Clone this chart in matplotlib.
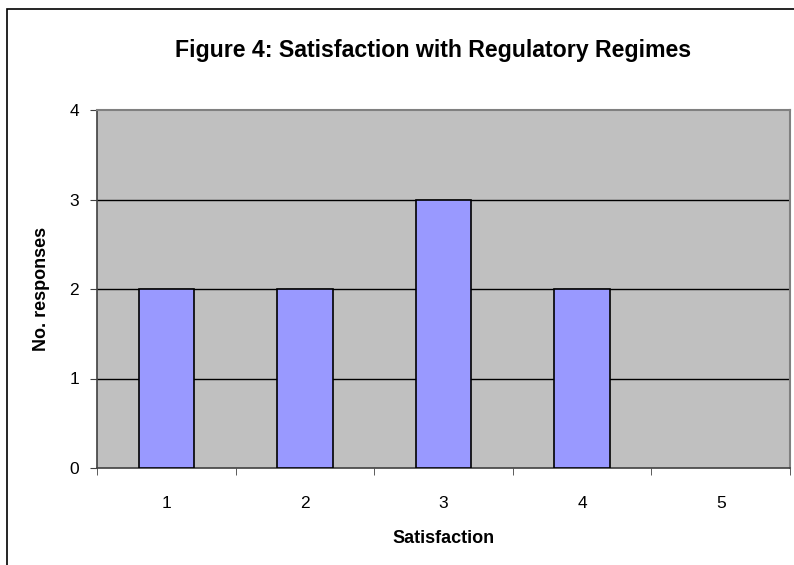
import matplotlib.pyplot as plt
from matplotlib.patches import Rectangle
import numpy as np

categories = [1, 2, 3, 4, 5]
responses = [2, 2, 3, 2, 0]

plt.rcParams['font.family'] = ['Liberation Sans', 'DejaVu Sans']

W, H = 794, 565
fig = plt.figure(figsize=(W / 100, H / 100), dpi=100)

# outer chart border (runs off the right and bottom edge)
fig.patches.append(Rectangle((7 / W, -0.1), 1.2, 1 - 9 / H + 0.1, transform=fig.transFigure,
                             fill=False, edgecolor='black', linewidth=1.2))

ax = fig.add_axes([97 / W, (H - 468) / H, (790 - 97) / W, (468 - 110) / H])
ax.set_facecolor('#C0C0C0')

# zero-height bars get no outline, like the original
lw = [1.2 if r > 0 else 0 for r in responses]
ax.bar(categories, responses, width=0.4, color='#9999FF', edgecolor='black', linewidth=lw, zorder=3)

ax.set_xlim(0.5, 5.5)
ax.set_ylim(0, 4)
ax.set_yticks([0, 1, 2, 3, 4])
ax.set_xticks(categories)
ax.set_xticks(np.arange(0.5, 6, 1), minor=True)
ax.tick_params(axis='x', which='major', length=0, pad=20, labelsize=12.5)
ax.tick_params(axis='x', which='minor', length=5, color='#404040', direction='out')
ax.tick_params(axis='y', length=5, color='#404040', direction='out', pad=8, labelsize=12.5)

for y in [1, 2, 3]:
    ax.axhline(y, color='black', linewidth=1.0, zorder=1)

for side in ['top', 'right']:
    ax.spines[side].set_color('#808080')
    ax.spines[side].set_linewidth(1.5)
for side in ['left', 'bottom']:
    ax.spines[side].set_color('#404040')
    ax.spines[side].set_linewidth(1.2)

ax.set_xlabel('Satisfaction', fontsize=13, fontweight='bold', labelpad=14)
ax.set_ylabel('No. responses', fontsize=13, fontweight='bold', labelpad=14)

fig.text(433 / W, 1 - 50 / H, 'Figure 4: Satisfaction with Regulatory Regimes',
         ha='center', va='center', fontsize=16.7, fontweight='bold')

fig.savefig('out.png', dpi=100)
